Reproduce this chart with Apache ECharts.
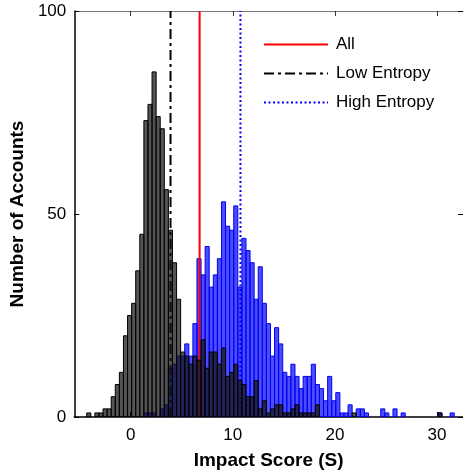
<!DOCTYPE html>
<html><head><meta charset="utf-8">
<script src="https://cdn.jsdelivr.net/npm/echarts@6/dist/echarts.min.js"></script>
<style>html,body{margin:0;padding:0;background:#fff}#c{width:463px;height:475px}</style>
</head><body><div id="c"></div>
<script>
// ---- data ----
const binWidth = 0.4;
const lowStart = -4.31;   // left edge of first Low Entropy bin
const lowCounts = [
  1,0,1,1,2,2,5,8,11,20,25,28,36,45,
  73,77,85,74,71,56,46,38,29,16,
  15,13,15,14,19,12,16,16,13,17,
  10,11,13,9,8,5,5,9,2,4,
  1,2,3,3,1,1,2,3,1,1,
  1,1,3,0,0,0,0,0,0,0,
  0,1,0,0,0,0,0,0,0,0,
  0,0,0,0,0,0,0,0,0,0,
  0,0,1
];
const highStart = 1.29;   // left edge of first High Entropy bin
const highCounts = [
  1,1,1,0,2,3,12,13,15,15,
  18,15,23,39,35,42,32,35,39,53,
  47,46,52,32,44,41,38,29,37,28,
  23,15,22,18,11,10,13,10,7,10,
  10,13,8,7,4,10,4,6,1,1,
  3,0,2,2,1,0,0,0,2,1,
  0,2,0,1,0,0,0,0,0,0,
  0,0,1,0,0,1
];
const meanAll = 6.75, meanLow = 3.9, meanHigh = 10.75;
const seriesNames = ['All', 'Low Entropy', 'High Entropy'];
const xTicks = [0, 10, 20, 30];
const yTicks = [0, 50, 100];
const xTitle = 'Impact Score (S)';
const yTitle = 'Number of Accounts';

// ---- chart ----
const FONT = "'Liberation Sans', Arial, Helvetica, sans-serif";
function bins(start, counts) {
  return counts.map((c, i) => [start + i * binWidth, start + (i + 1) * binWidth, c]).filter(d => d[2] > 0);
}
function histRender(fill, stroke) {
  return function (params, api) {
    const p0 = api.coord([api.value(0), api.value(2)]);
    const p1 = api.coord([api.value(1), 0]);
    return {
      type: 'rect',
      shape: { x: p0[0], y: p0[1], width: p1[0] - p0[0], height: p1[1] - p0[1] },
      style: { fill: fill, stroke: stroke, lineWidth: 1 }
    };
  };
}
const chart = echarts.init(document.getElementById('c'), null, { renderer: 'canvas' });
const xMin = -5.53, xMax = 32.55;
chart.setOption({
  animation: false,
  backgroundColor: '#fff',
  textStyle: { fontFamily: FONT },
  grid: { left: 73.5, top: 11, width: 390, height: 406, containLabel: false },
  legend: {
    data: seriesNames, orient: 'vertical', left: 258, top: 31,
    itemWidth: 64, itemHeight: 14, itemGap: 12,
    itemStyle: { color: 'rgba(0,0,0,0)', borderWidth: 0, opacity: 0 },
    textStyle: { fontSize: 17, color: '#000', fontFamily: FONT, padding: [0, 0, 0, 3] }
  },
  xAxis: [{
    type: 'value', min: xMin, max: xMax, position: 'bottom',
    axisLine: { show: true, onZero: false, lineStyle: { color: '#000', width: 1.5 } },
    axisTick: { show: true, inside: true, length: 5, customValues: xTicks, lineStyle: { color: '#000' } },
    axisLabel: { customValues: xTicks, fontSize: 17, color: '#000', margin: 10, fontFamily: FONT },
    splitLine: { show: false },
    name: xTitle, nameLocation: 'middle', nameGap: 34,
    nameTextStyle: { fontWeight: 'bold', fontSize: 19, color: '#000', fontFamily: FONT }
  }, {
    type: 'value', min: xMin, max: xMax, position: 'top',
    axisLine: { show: true, onZero: false, lineStyle: { color: '#777', width: 1 } },
    axisTick: { show: true, inside: true, length: 5, customValues: xTicks, lineStyle: { color: '#333' } },
    axisLabel: { show: false }, splitLine: { show: false }
  }],
  yAxis: [{
    type: 'value', min: 0, max: 100, interval: 50,
    axisLine: { show: true, onZero: false, lineStyle: { color: '#000', width: 1.5 } },
    axisTick: { show: true, inside: true, length: 5, lineStyle: { color: '#000' } },
    axisLabel: { fontSize: 17, color: '#000', margin: 8, fontFamily: FONT },
    splitLine: { show: false },
    name: yTitle, nameLocation: 'middle', nameGap: 46,
    nameTextStyle: { fontWeight: 'bold', fontSize: 19, color: '#000', fontFamily: FONT }
  }, {
    type: 'value', min: 0, max: 100, interval: 50, position: 'right',
    axisLine: { show: true, onZero: false, lineStyle: { color: '#000', width: 1 } },
    axisTick: { show: true, inside: true, length: 5, lineStyle: { color: '#000' } },
    axisLabel: { show: false }, splitLine: { show: false }
  }],
  series: [
    {
      type: 'custom', name: 'highHist', data: bins(highStart, highCounts),
      encode: { x: [0, 1], y: 2 }, renderItem: histRender('rgba(0,0,255,0.7)', '#0000ee'),
      clip: true, z: 2
    },
    {
      type: 'line', name: seriesNames[0], data: [[meanAll, 0], [meanAll, 100]],
      symbol: 'none', lineStyle: { color: '#ff0000', width: 2 }, itemStyle: { color: '#ff0000' }, z: 3
    },
    {
      type: 'line', name: seriesNames[1], data: [[meanLow, 0], [meanLow, 100]],
      symbol: 'none', lineStyle: { color: '#000', width: 2, type: [10, 4, 3, 4] }, itemStyle: { color: '#000' }, z: 3
    },
    {
      type: 'line', name: seriesNames[2], data: [[meanHigh, 0], [meanHigh, 100]],
      symbol: 'none', lineStyle: { color: '#0000ff', width: 2, type: [2, 2.5] }, itemStyle: { color: '#0000ff' }, z: 3
    },
    {
      type: 'custom', name: 'lowHist', data: bins(lowStart, lowCounts),
      encode: { x: [0, 1], y: 2 }, renderItem: histRender('rgba(20,20,20,0.72)', '#000'),
      clip: true, z: 4
    }
  ]
});
</script></body></html>
